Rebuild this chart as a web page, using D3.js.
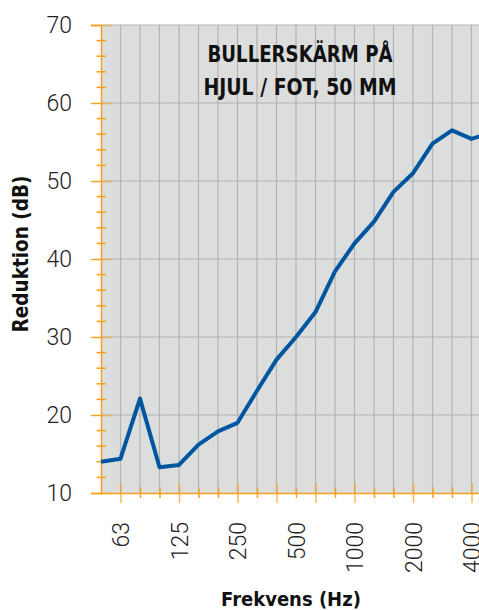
<!DOCTYPE html>
<html>
<head>
<meta charset="utf-8">
<script src="https://cdn.jsdelivr.net/npm/d3@7"></script>
<style>
  html, body { margin: 0; padding: 0; background: #fff; }
  svg { display: block; }
</style>
</head>
<body>
<script>
// Third-octave bands (Hz) and measured sound reduction (dB)
const bands = ["50", "63", "80", "100", "125", "160", "200", "250", "315", "400", "500",
               "630", "800", "1000", "1250", "1600", "2000", "2500", "3150", "4000", "5000"];
const reduction = [14.0, 14.4, 22.1, 13.3, 13.6, 16.2, 17.9, 19.0, 23.1, 27.1, 30.0,
                   33.2, 38.4, 42.0, 44.8, 48.6, 51.0, 54.8, 56.5, 55.4, 56.2];
// Bands that carry a text label and bands that get a long tick
const labelledBands = ["63", "125", "250", "500", "1000", "2000", "4000"];
const longTickBands = ["63", "125", "250", "400", "630", "1000", "2000", "4000"];
const yTicks = [10, 20, 30, 40, 50, 60, 70];
const yMinorTicks = [12, 14, 16, 18, 22, 24, 26, 28, 32, 34, 36, 38, 42, 44, 46, 48, 52, 54, 56, 58, 62, 64, 66, 68];
const titleLines = ["BULLERSKÄRM PÅ", "HJUL / FOT, 50 MM"];

const W = 479, H = 610;
const plotLeft = 101, plotTop = 25, plotBottom = 493, plotRight = 491;
const orange = "#f6a01c", grid = "#b2b2b2", blue = "#0055a0";
const condensed = "'Liberation Sans Narrow', 'DejaVu Sans Condensed', 'Arial Narrow', sans-serif";
const light = "Roboto, 'Liberation Sans', sans-serif";

const svg = d3.select("body").append("svg").attr("width", W).attr("height", H);

const x = d3.scalePoint().domain(bands).range([plotLeft, plotRight]).padding(0);
const y = d3.scaleLinear().domain([10, 70]).range([plotBottom, plotTop]);

// Plot background
svg.append("rect").attr("x", plotLeft).attr("y", plotTop)
  .attr("width", plotRight - plotLeft).attr("height", plotBottom - plotTop).attr("fill", "#dcdddd");

// Vertical grid at every band
svg.append("g").selectAll("line").data(bands.slice(1)).join("line")
  .attr("x1", d => x(d)).attr("x2", d => x(d))
  .attr("y1", plotTop).attr("y2", plotBottom)
  .attr("stroke", grid).attr("stroke-width", 1.2);

// Horizontal grid at every 10 dB
svg.append("g").selectAll("line").data(yTicks.slice(1)).join("line")
  .attr("x1", plotLeft).attr("x2", plotRight)
  .attr("y1", d => y(d)).attr("y2", d => y(d))
  .attr("stroke", grid).attr("stroke-width", 1.2);

// Y axis: line, major and minor ticks
const yAxis = d3.axisLeft(y).tickValues(yTicks).tickSize(10).tickPadding(19).tickFormat(d3.format("d"));
const gy = svg.append("g").attr("transform", `translate(${plotLeft},0)`).call(yAxis);
gy.select(".domain").attr("stroke", orange).attr("stroke-width", 1.5);
gy.selectAll(".tick line").attr("stroke", orange).attr("stroke-width", 1.5);
gy.selectAll(".tick").append("line")
  .attr("x1", 0).attr("x2", 11).attr("stroke", orange).attr("stroke-opacity", 0.6).attr("stroke-width", 1.5);
gy.selectAll(".tick text").attr("fill", "#222").attr("font-family", light)
  .attr("font-weight", 300).attr("font-size", 23);
svg.append("g").selectAll("line").data(yMinorTicks).join("line")
  .attr("x1", plotLeft - 4.5).attr("x2", plotLeft + 5)
  .attr("y1", d => y(d)).attr("y2", d => y(d))
  .attr("stroke", orange).attr("stroke-width", 1.5);

// X axis: line, ticks and rotated labels
const xAxis = d3.axisBottom(x).tickValues(bands.slice(1)).tickSize(0)
  .tickFormat(d => labelledBands.includes(d) ? d : "");
const gx = svg.append("g").attr("transform", `translate(0,${plotBottom})`).call(xAxis);
gx.select(".domain").attr("stroke", orange).attr("stroke-width", 1.5);
gx.selectAll(".tick line").remove();
gx.selectAll(".tick").append("line")
  .attr("y1", d => longTickBands.includes(d) ? -10 : -5.5)
  .attr("y2", d => longTickBands.includes(d) ? 10 : 5)
  .attr("stroke", orange).attr("stroke-width", 1.5)
  .attr("stroke-opacity", d => longTickBands.includes(d) ? 0.75 : 1);
gx.selectAll(".tick text")
  .attr("transform", "rotate(-90)")
  .attr("x", -29).attr("y", 0).attr("dy", "0.35em")
  .attr("text-anchor", "end")
  .attr("fill", "#222").attr("font-family", light)
  .attr("font-weight", 300).attr("font-size", 23);

// Reduction curve
const line = d3.line().x((d, i) => x(bands[i])).y(d => y(d));
svg.append("path").datum(reduction)
  .attr("d", line).attr("fill", "none")
  .attr("stroke", blue).attr("stroke-width", 4).attr("stroke-linejoin", "round");

// Chart title inside the plot, set in a tight condensed cut
const titleWidths = [185, 193];
svg.append("g").selectAll("text").data(titleLines).join("text")
  .attr("x", 300).attr("y", (d, i) => 62 + i * 33)
  .attr("text-anchor", "middle")
  .attr("textLength", (d, i) => titleWidths[i])
  .attr("lengthAdjust", "spacingAndGlyphs")
  .attr("font-family", condensed).attr("font-weight", 700).attr("font-size", 22.5)
  .attr("fill", "#111").text(d => d);

// Axis titles
svg.append("text")
  .attr("transform", "translate(28,254) rotate(-90)")
  .attr("text-anchor", "middle")
  .attr("font-family", condensed).attr("font-weight", 700).attr("font-size", 20.5)
  .attr("fill", "#111").text("Reduktion (dB)");
svg.append("text")
  .attr("x", 291).attr("y", 606)
  .attr("text-anchor", "middle")
  .attr("font-family", condensed).attr("font-weight", 700).attr("font-size", 20)
  .attr("fill", "#111").text("Frekvens (Hz)");
</script>
</body>
</html>
